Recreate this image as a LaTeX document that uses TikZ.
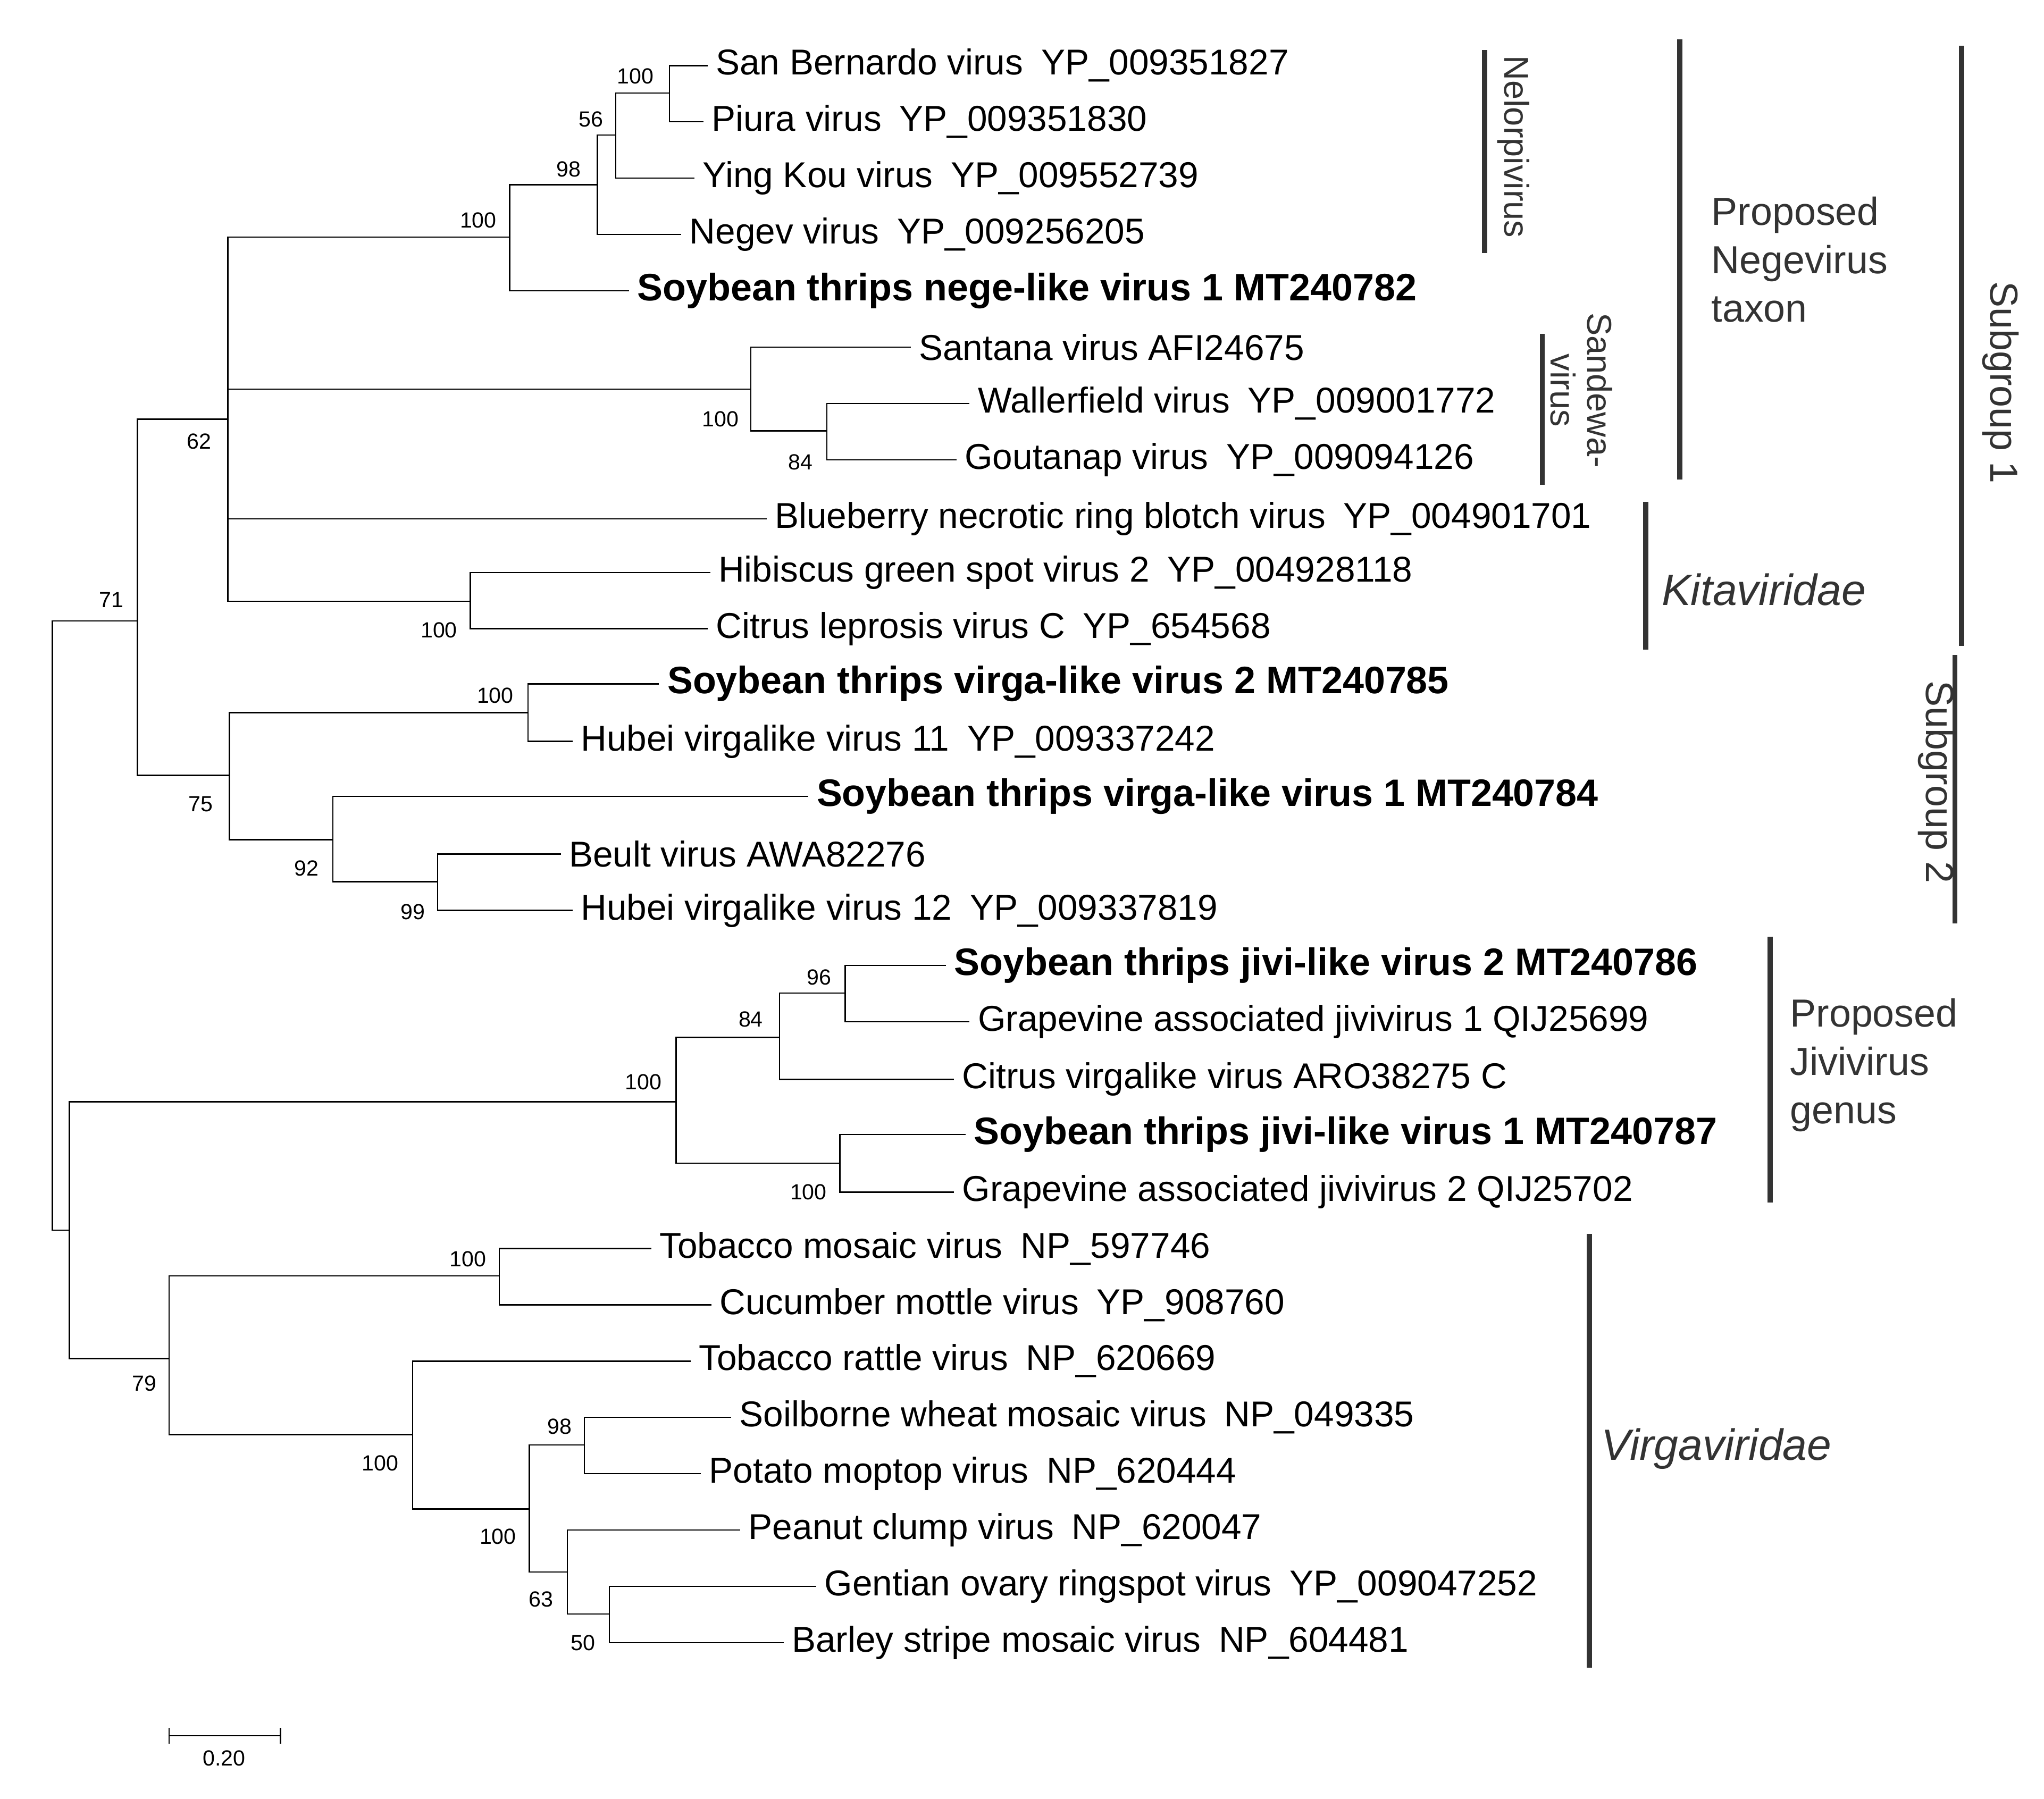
\documentclass[tikz,border=0pt]{standalone}
\usepackage{fontspec}
\setmainfont{Liberation Sans}
\begin{document}
\begin{tikzpicture}[x=0.02cm,y=-0.02cm,
 leaf/.style={anchor=west,inner xsep=0.12cm,inner ysep=0,font=\fontsize{15.6}{17}\selectfont},
 bleaf/.style={leaf,font=\fontsize{16.6}{18}\selectfont\bfseries},
 bs/.style={font=\fontsize{9.5}{11}\selectfont,inner sep=0},
 br/.style={line width=0.6pt},
 bar/.style={line width=2.2pt,black!80},
 grp/.style={font=\fontsize{17}{21}\selectfont,text=black!80,align=left}]
\useasboundingbox (0,0) rectangle (1560,1373);
\newcommand{\gapx}{\hspace{0.5em}}
% leaves
\node[leaf] (l1) at (540,50) {San Bernardo virus\gapx YP\_009351827};
\node[leaf] (l2) at (537,93) {Piura virus\gapx YP\_009351830};
\node[leaf] (l3) at (530,136) {Ying Kou virus\gapx YP\_009552739};
\node[leaf] (l4) at (520,179) {Negev virus\gapx YP\_009256205};
\node[bleaf] (l5) at (480,222) {Soybean thrips nege-like virus 1 MT240782};
\node[leaf] (l6) at (695,265) {Santana virus AFI24675};
\node[leaf] (l7) at (740,308) {Wallerfield virus\gapx YP\_009001772};
\node[leaf] (l8) at (730,351) {Goutanap virus\gapx YP\_009094126};
\node[leaf] (l9) at (585,396) {Blueberry necrotic ring blotch virus\gapx YP\_004901701};
\node[leaf] (l10) at (542,437) {Hibiscus green spot virus 2\gapx YP\_004928118};
\node[leaf] (l11) at (540,480) {Citrus leprosis virus C\gapx YP\_654568};
\node[bleaf] (l12) at (503,522) {Soybean thrips virga-like virus 2 MT240785};
\node[leaf] (l13) at (437,566) {Hubei virgalike virus 11\gapx YP\_009337242};
\node[bleaf] (l14) at (617,608) {Soybean thrips virga-like virus 1 MT240784};
\node[leaf] (l15) at (428,652) {Beult virus AWA82276};
\node[leaf] (l16) at (437,695) {Hubei virgalike virus 12\gapx YP\_009337819};
\node[bleaf] (l17) at (722,737) {Soybean thrips jivi-like virus 2 MT240786};
\node[leaf] (l18) at (740,780) {Grapevine associated jivivirus 1 QIJ25699};
\node[leaf] (l19) at (728,824) {Citrus virgalike virus ARO38275 C};
\node[bleaf] (l20) at (737,866) {Soybean thrips jivi-like virus 1 MT240787};
\node[leaf] (l21) at (728,910) {Grapevine associated jivivirus 2 QIJ25702};
\node[leaf] (l22) at (497,953) {Tobacco mosaic virus\gapx NP\_597746};
\node[leaf] (l23) at (543,996) {Cucumber mottle virus\gapx YP\_908760};
\node[leaf] (l24) at (527,1039) {Tobacco rattle virus\gapx NP\_620669};
\node[leaf] (l25) at (558,1082) {Soilborne wheat mosaic virus\gapx NP\_049335};
\node[leaf] (l26) at (535,1125) {Potato moptop virus\gapx NP\_620444};
\node[leaf] (l27) at (565,1168) {Peanut clump virus\gapx NP\_620047};
\node[leaf] (l28) at (623,1211) {Gentian ovary ringspot virus\gapx YP\_009047252};
\node[leaf] (l29) at (598,1254) {Barley stripe mosaic virus\gapx NP\_604481};
% internal nodes
\coordinate (n1) at (511,71);
\coordinate (n2) at (470,103);
\coordinate (n3) at (456,141);
\coordinate (n4) at (389,181);
\coordinate (n5) at (631,329);
\coordinate (n6) at (573,297);
\coordinate (n7) at (359,459);
\coordinate (n8) at (174,320);
\coordinate (n9) at (403,544);
\coordinate (n10) at (334,673);
\coordinate (n11) at (254,641);
\coordinate (n12) at (175,592);
\coordinate (n13) at (105,474);
\coordinate (n14) at (645,758);
\coordinate (n15) at (595,792);
\coordinate (n16) at (641,888);
\coordinate (n17) at (516,841);
\coordinate (n18) at (381,974);
\coordinate (n19) at (446,1103);
\coordinate (n20) at (465,1232);
\coordinate (n21) at (433,1200);
\coordinate (n22) at (404,1152);
\coordinate (n23) at (315,1095);
\coordinate (n24) at (129,1037);
\coordinate (n25) at (53,939);
\coordinate (root) at (40,700);
\begin{scope}[br]
\draw (n1) |- (l1.west); \draw (n1) |- (l2.west);
\draw (n2) |- (n1); \draw (n2) |- (l3.west);
\draw (n3) |- (n2); \draw (n3) |- (l4.west);
\draw (n4) |- (n3); \draw (n4) |- (l5.west);
\draw (n5) |- (l7.west); \draw (n5) |- (l8.west);
\draw (n6) |- (l6.west); \draw (n6) |- (n5);
\draw (n7) |- (l10.west); \draw (n7) |- (l11.west);
\draw (n8) |- (n4); \draw (n8) |- (n6); \draw (n8) |- (l9.west); \draw (n8) |- (n7);
\draw (n9) |- (l12.west); \draw (n9) |- (l13.west);
\draw (n10) |- (l15.west); \draw (n10) |- (l16.west);
\draw (n11) |- (l14.west); \draw (n11) |- (n10);
\draw (n12) |- (n9); \draw (n12) |- (n11);
\draw (n13) |- (n8); \draw (n13) |- (n12);
\draw (n14) |- (l17.west); \draw (n14) |- (l18.west);
\draw (n15) |- (n14); \draw (n15) |- (l19.west);
\draw (n16) |- (l20.west); \draw (n16) |- (l21.west);
\draw (n17) |- (n15); \draw (n17) |- (n16);
\draw (n18) |- (l22.west); \draw (n18) |- (l23.west);
\draw (n19) |- (l25.west); \draw (n19) |- (l26.west);
\draw (n20) |- (l28.west); \draw (n20) |- (l29.west);
\draw (n21) |- (l27.west); \draw (n21) |- (n20);
\draw (n22) |- (n19); \draw (n22) |- (n21);
\draw (n23) |- (l24.west); \draw (n23) |- (n22);
\draw (n24) |- (n18); \draw (n24) |- (n23);
\draw (n25) |- (n17); \draw (n25) |- (n24);
\draw (root) |- (n13); \draw (root) |- (n25);
\end{scope}
% bootstrap
\node[bs] at (485,58) {100};
\node[bs] at (451,91) {56};
\node[bs] at (434,129) {98};
\node[bs] at (365,168) {100};
\node[bs] at (550,320) {100};
\node[bs] at (611,353) {84};
\node[bs] at (335,481) {100};
\node[bs] at (152,337) {62};
\node[bs] at (85,458) {71};
\node[bs] at (378,531) {100};
\node[bs] at (153,614) {75};
\node[bs] at (234,663) {92};
\node[bs] at (315,696) {99};
\node[bs] at (625,746) {96};
\node[bs] at (573,778) {84};
\node[bs] at (491,826) {100};
\node[bs] at (617,910) {100};
\node[bs] at (357,961) {100};
\node[bs] at (110,1056) {79};
\node[bs] at (290,1117) {100};
\node[bs] at (427,1089) {98};
\node[bs] at (380,1173) {100};
\node[bs] at (413,1221) {63};
\node[bs] at (445,1254) {50};
% scale bar
\coordinate (s1) at (129,1325); \coordinate (s2) at (214,1325);
\draw[br] (s1) -- (s2);
\path (s1) +(0,-6) coordinate (s1a) +(0,6) coordinate (s1b);
\path (s2) +(0,-6) coordinate (s2a) +(0,6) coordinate (s2b);
\draw[br] (s1a) -- (s1b); \draw[br] (s2a) -- (s2b);
\node[bs] (sl) at (171,1342) {0.20};
% group bars
\draw[bar] (1133,38) -- (1133,193);
\node[grp,rotate=-90,font=\fontsize{15}{16}\selectfont] (g1) at (1155,112) {Nelorpivirus};
\draw[bar] (1177,255) -- (1177,370);
\node[grp,rotate=-90,align=center,font=\fontsize{15}{16}\selectfont] (g2) at (1207,298) {Sandewa-\\virus};
\draw[bar] (1282,30) -- (1282,366);
\node[grp,anchor=west] (g3) at (1300,198) {Proposed\\Negevirus\\taxon};
\draw[bar] (1497,35) -- (1497,493);
\node[grp,rotate=-90] (g4) at (1527,292) {Subgroup 1};
\draw[bar] (1256,383) -- (1256,496);
\node[grp,anchor=west,font=\fontsize{19}{22}\selectfont\itshape] (g5) at (1262,450) {Kitaviridae};
\draw[bar] (1492,500) -- (1492,705);
\node[grp,rotate=-90] (g6) at (1478,597) {Subgroup 2};
\draw[bar] (1351,715) -- (1351,918);
\node[grp,anchor=west] (g7) at (1360,813) {Proposed\\Jivivirus\\genus};
\draw[bar] (1213,942) -- (1213,1273);
\node[grp,anchor=west,font=\fontsize{19}{22}\selectfont\itshape] (g8) at (1216,1106) {Virgaviridae};
\end{tikzpicture}
\end{document}
